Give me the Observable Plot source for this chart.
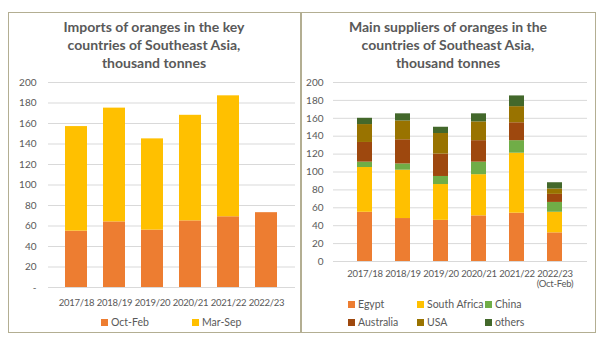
<!DOCTYPE html>
<html>
<head>
<meta charset="utf-8">
<script src="https://cdn.jsdelivr.net/npm/d3@7"></script>
<script src="https://cdn.jsdelivr.net/npm/@observablehq/plot@0.6"></script>
<style>
  html, body { margin: 0; padding: 0; background: #fff; }
  #root { position: relative; width: 600px; height: 352px; overflow: hidden; font-family: Lato, "Open Sans", sans-serif; color: #595959; }
  #root svg, #root svg text { font-family: Lato, sans-serif !important; }
  #root svg g[aria-label="x-axis tick label"] text { letter-spacing: -0.25px; }
  .panel { position: absolute; box-sizing: border-box; border: 1px solid #b3ae92; }
  .title { position: absolute; text-align: center; font-weight: bold; font-size: 14px; line-height: 18px; color: #595959; }
  .plot { position: absolute; }
  .leg { position: absolute; font-size: 10.5px; line-height: 12px; white-space: nowrap; color: #595959; }
  .sw { display: inline-block; width: 7px; height: 7px; margin-right: 3px; vertical-align: 0px; }
</style>
</head>
<body>
<div id="root"></div>
<script>
// ---- Data: left chart ----
const years = ["2017/18", "2018/19", "2019/20", "2020/21", "2021/22", "2022/23"];
const periods = ["Oct-Feb", "Mar-Sep"];
const octFeb = [55, 64, 56, 65, 69, 73];
const marSep = [102, 111, 89, 103, 118, 0];
const periodColors = ["#ED7D31", "#FFC000"];
const leftTitle = ["Imports of oranges in the key", "countries of Southeast Asia,", "thousand tonnes"];

// ---- Data: right chart ----
const yearLabels = ["2017/18", "2018/19", "2019/20", "2020/21", "2021/22", "2022/23\n(Oct-Feb)"];
const suppliers = ["Egypt", "South Africa", "China", "Australia", "USA", "others"];
const egypt = [55, 48, 46, 51, 54, 32];
const southAfrica = [50, 54, 40, 46, 67, 23];
const china = [6, 7, 9, 14, 14, 11];
const australia = [22, 27, 25, 24, 20, 9];
const usa = [20, 21, 23, 21, 18, 6];
const others = [7, 8, 7, 9, 12, 7];
const supplierColors = ["#ED7D31", "#FFC000", "#70AD47", "#9E480E", "#997300", "#43682B"];
const rightTitle = ["Main suppliers of oranges in the", "countries of Southeast Asia,", "thousand tonnes"];

const yTicks = d3.range(0, 201, 20);

// ---- build tables ----
const leftData = [];
years.forEach((y, i) => {
  leftData.push({year: y, period: periods[0], value: octFeb[i]});
  leftData.push({year: y, period: periods[1], value: marSep[i]});
});
const supplierSeries = [egypt, southAfrica, china, australia, usa, others];
const rightData = [];
years.forEach((y, i) => {
  suppliers.forEach((s, k) => rightData.push({year: y, supplier: s, value: supplierSeries[k][i]}));
});

const root = document.getElementById("root");
function add(tag, cls, css, html) {
  const el = document.createElement(tag);
  if (cls) el.className = cls;
  Object.assign(el.style, css);
  if (html != null) el.innerHTML = html;
  root.appendChild(el);
  return el;
}

// panels
add("div", "panel", {left: "8px", top: "12px", width: "293px", height: "321px"});
add("div", "panel", {left: "301px", top: "12px", width: "295px", height: "321px"});

// titles
add("div", "title", {left: "8px", top: "18px", width: "292px"}, leftTitle.join("<br>"));
add("div", "title", {left: "301px", top: "18px", width: "294px"}, rightTitle.join("<br>"));

const baseStyle = {fontFamily: "Lato, sans-serif", fontSize: "10px", color: "#595959", background: "transparent", overflow: "visible"};

// ---- left plot ----
const leftPlot = Plot.plot({
  width: 292, height: 240,
  marginTop: 10, marginBottom: 25, marginLeft: 40, marginRight: 5,
  style: baseStyle,
  x: {domain: years, padding: 0.42, label: null},
  y: {domain: [0, 200], label: null},
  color: {domain: periods, range: periodColors},
  marks: [
    Plot.ruleY(yTicks, {stroke: "#d9d9d9"}),
    Plot.barY(leftData, {x: "year", y: "value", fill: "period"}),
    Plot.axisX({tickSize: 0, tickPadding: 12, fontSize: 9.5, label: null}),
    Plot.axisY({ticks: 10, tickSize: 0, tickPadding: 12, fontSize: 10, label: null, tickFormat: d => d === 0 ? "-" : d})
  ]
});
const lw = add("div", "plot", {left: "8px", top: "72px"});
lw.appendChild(leftPlot);

// ---- right plot ----
const rightPlot = Plot.plot({
  width: 294, height: 224,
  marginTop: 10, marginBottom: 35, marginLeft: 32, marginRight: 8,
  style: baseStyle,
  x: {domain: years, padding: 0.6, label: null},
  y: {domain: [0, 200], label: null},
  color: {domain: suppliers, range: supplierColors},
  marks: [
    Plot.ruleY(yTicks, {stroke: "#d9d9d9"}),
    Plot.barY(rightData, {x: "year", y: "value", fill: "supplier"}),
    Plot.axisX({tickSize: 0, tickPadding: 9, fontSize: 9.5, label: null, tickFormat: d => yearLabels[years.indexOf(d)]}),
    Plot.axisY({ticks: 10, tickSize: 0, tickPadding: 10, fontSize: 10, label: null})
  ]
});
const rw = add("div", "plot", {left: "301px", top: "72px"});
rw.appendChild(rightPlot);

// ---- legends ----
const leftLegPos = [[101, 316], [192, 316]];
periods.forEach((p, i) => {
  add("div", "leg", {left: leftLegPos[i][0] + "px", top: leftLegPos[i][1] + "px"},
    `<span class="sw" style="background:${periodColors[i]}"></span>${p}`);
});
const rightLegPos = [[348, 298], [417, 298], [485, 298], [348, 316], [417, 316], [485, 316]];
suppliers.forEach((s, i) => {
  add("div", "leg", {left: rightLegPos[i][0] + "px", top: rightLegPos[i][1] + "px"},
    `<span class="sw" style="background:${supplierColors[i]}"></span>${s}`);
});
</script>
</body>
</html>
